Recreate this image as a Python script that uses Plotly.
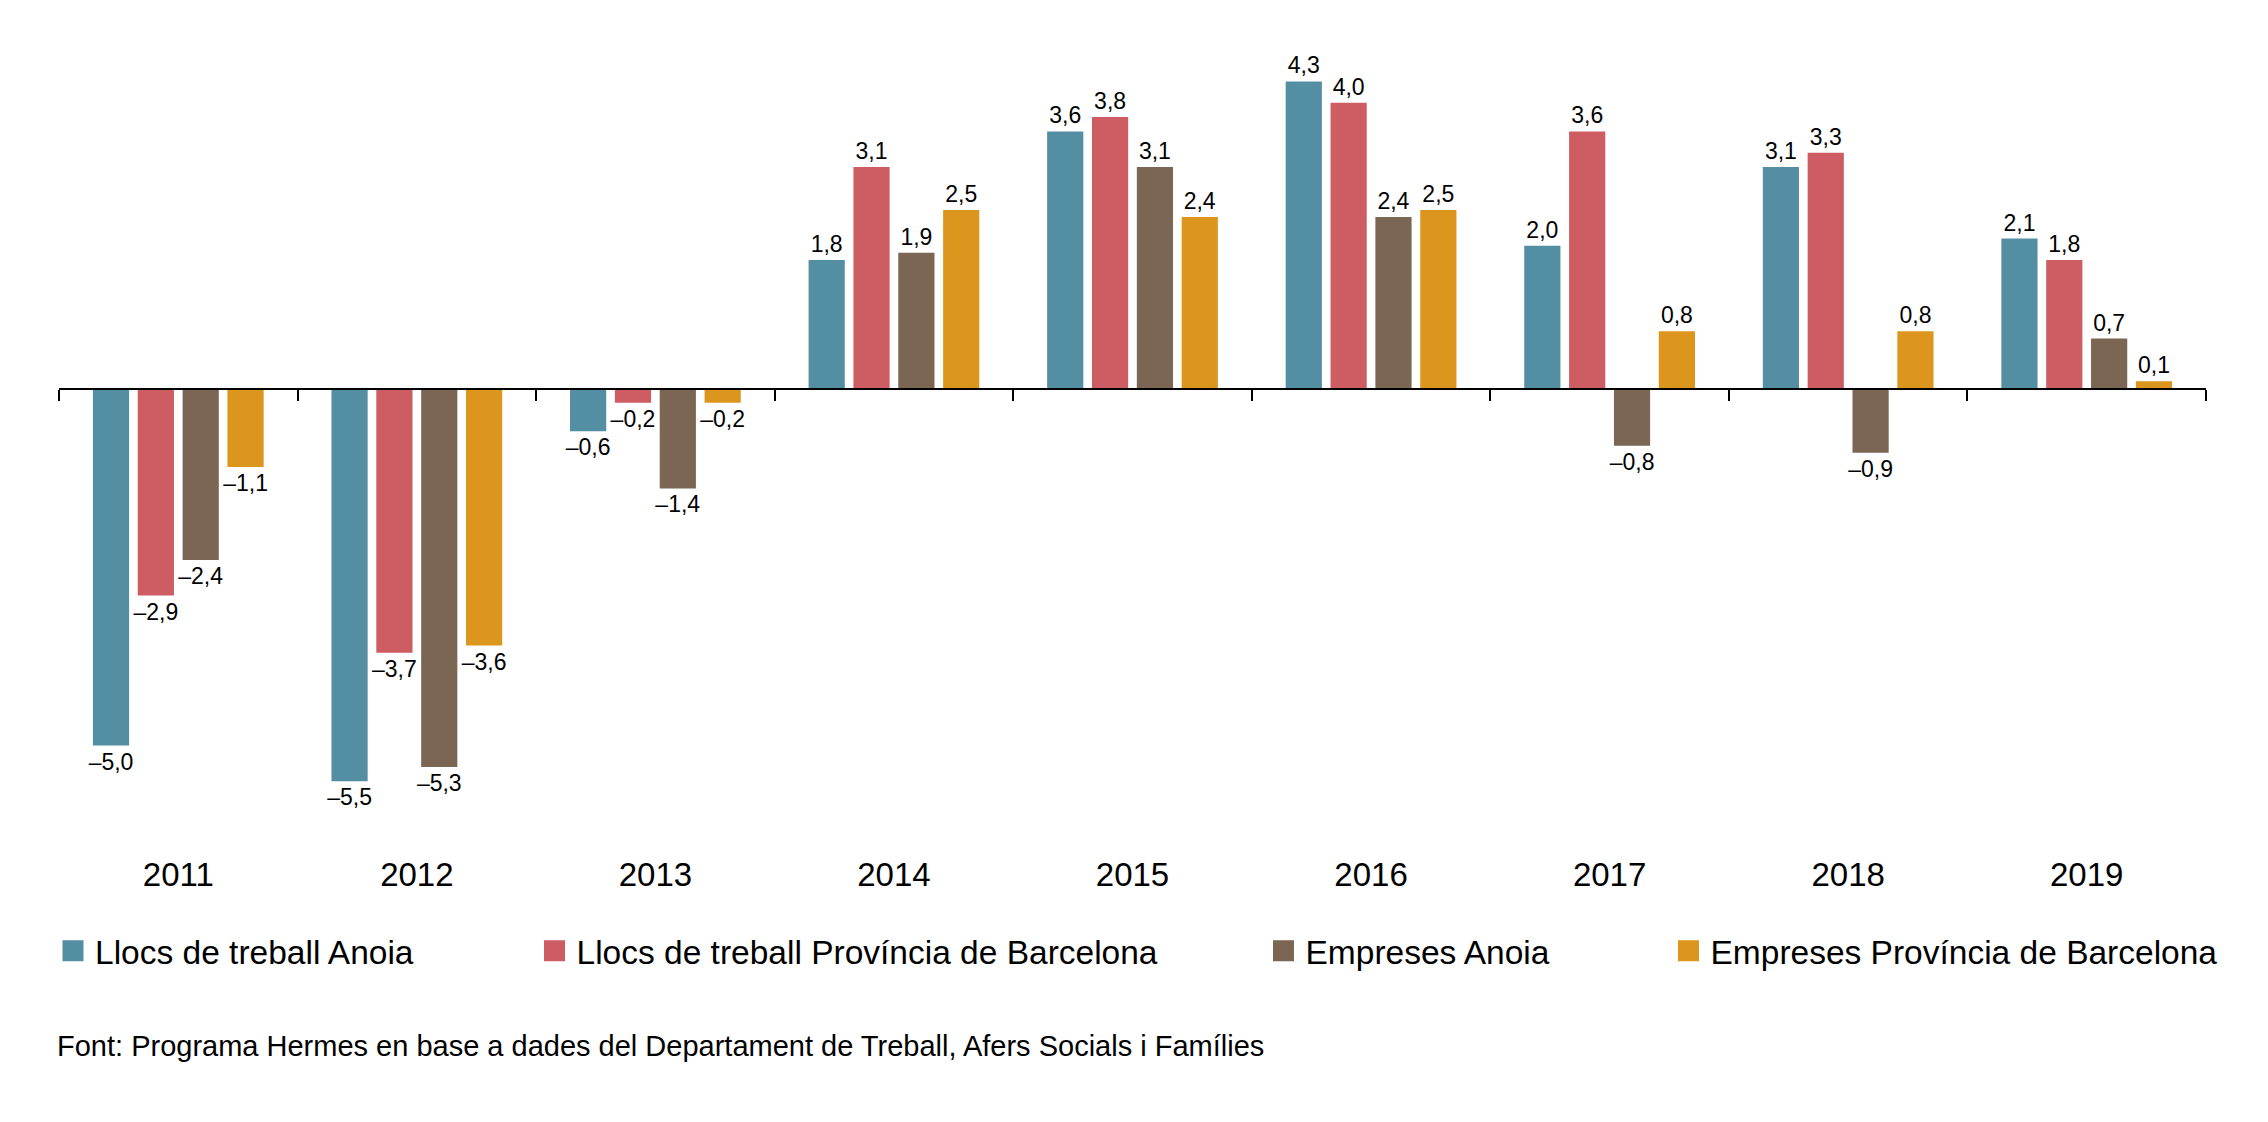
import plotly.graph_objects as go

# dades: variació interanual (%)
years = ["2011", "2012", "2013", "2014", "2015", "2016", "2017", "2018", "2019"]
llocs_anoia = [-5.0, -5.5, -0.6, 1.8, 3.6, 4.3, 2.0, 3.1, 2.1]
llocs_bcn = [-2.9, -3.7, -0.2, 3.1, 3.8, 4.0, 3.6, 3.3, 1.8]
empreses_anoia = [-2.4, -5.3, -1.4, 1.9, 3.1, 2.4, -0.8, -0.9, 0.7]
empreses_bcn = [-1.1, -3.6, -0.2, 2.5, 2.4, 2.5, 0.8, 0.8, 0.1]

series = [
    ("Llocs de treball Anoia", llocs_anoia, "#548EA3", "legend"),
    ("Llocs de treball Província de Barcelona", llocs_bcn, "#CD5C63", "legend2"),
    ("Empreses Anoia", empreses_anoia, "#7A6653", "legend3"),
    ("Empreses Província de Barcelona", empreses_bcn, "#DC951D", "legend4"),
]

FONT = "Liberation Sans, Arial, Helvetica, sans-serif"
YMIN, YMAX = -6.0, 5.3


def fmt(v):
    return f"{v:.1f}".replace(".", ",").replace("-", "\u2013")


pos = list(range(len(years)))

fig = go.Figure()
for name, vals, color, leg in series:
    fig.add_trace(go.Bar(
        x=pos, y=vals, name=name, showlegend=False,
        marker=dict(color=color, line=dict(width=0)),
        text=[fmt(v) for v in vals], textposition="outside",
        textangle=0, constraintext="none", cliponaxis=False,
        textfont=dict(family=FONT, size=23, color="black"),
        hoverinfo="skip",
    ))
    # entrada de llegenda
    fig.add_trace(go.Scatter(
        x=[None], y=[None], mode="markers", name=name, legend=leg,
        marker=dict(symbol="square", size=16, color=color,
                    line=dict(width=5, color=color)),
        hoverinfo="skip",
    ))

# eix amb les etiquetes d'anys a la part inferior
fig.add_trace(go.Scatter(x=pos, y=[0] * len(pos), xaxis="x2", mode="none",
                         showlegend=False, hoverinfo="skip"))

leg_common = dict(orientation="h", xref="container", yref="container",
                  yanchor="middle", y=0.1595, xanchor="left",
                  itemsizing="trace", itemwidth=34, bgcolor="rgba(0,0,0,0)",
                  font=dict(family=FONT, size=33.5, color="black"))

fig.update_layout(
    width=2268, height=1122,
    margin=dict(l=51, r=70, t=2, b=313),
    paper_bgcolor="white", plot_bgcolor="white",
    barmode="group", bargap=0.248, bargroupgap=0.193,
    font=dict(family=FONT, color="black"),
    xaxis=dict(
        type="linear", range=[-0.5, 8.5], anchor="free",
        position=(0 - YMIN) / (YMAX - YMIN),
        showline=True, linecolor="black", linewidth=2,
        tickvals=[i - 0.5 for i in range(len(years) + 1)],
        ticks="outside", ticklen=11, tickwidth=2, tickcolor="black",
        showticklabels=False, showgrid=False, zeroline=False, fixedrange=True,
    ),
    xaxis2=dict(
        type="linear", range=[-0.5, 8.5], overlaying="x", anchor="y", side="bottom",
        tickvals=pos, ticktext=years, ticks="outside", ticklen=28,
        tickcolor="rgba(0,0,0,0)", showline=False, showgrid=False, zeroline=False,
        tickfont=dict(family=FONT, size=33, color="black"),
    ),
    yaxis=dict(range=[YMIN, YMAX], visible=False, showgrid=False,
               zeroline=False, fixedrange=True),
    legend=dict(leg_common, x=43 / 2268),
    legend2=dict(leg_common, x=524.5 / 2268),
    legend3=dict(leg_common, x=1253.5 / 2268),
    legend4=dict(leg_common, x=1658.5 / 2268),
    annotations=[dict(
        text="Font: Programa Hermes en base a dades del Departament de Treball, "
             "Afers Socials i Famílies",
        xref="paper", yref="paper", x=0, xshift=-4, y=(817 - 1046) / 807,
        xanchor="left", yanchor="middle", showarrow=False,
        font=dict(family=FONT, size=29, color="black"),
    )],
)

fig.write_html("out.html")
